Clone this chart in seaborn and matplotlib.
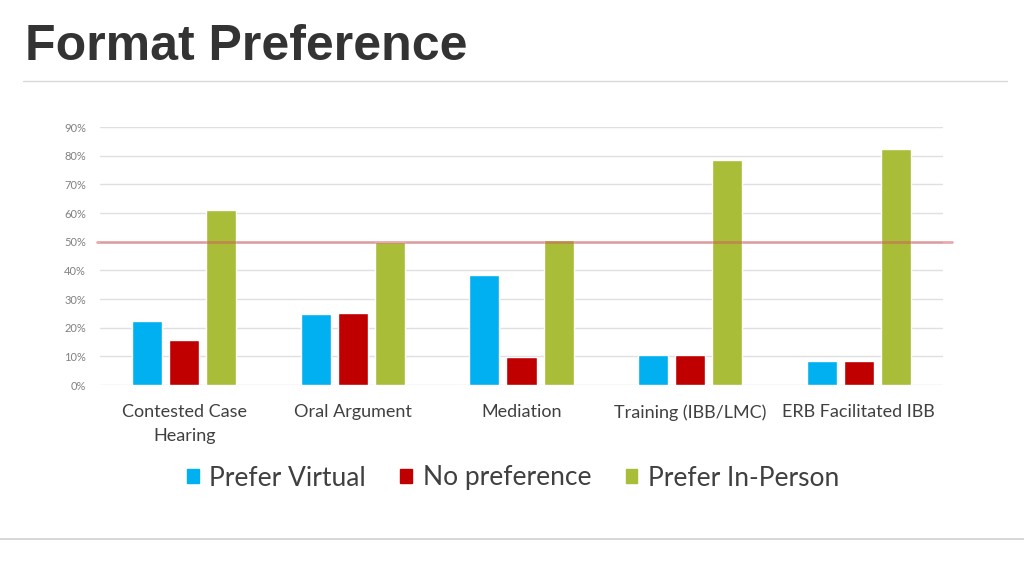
import pandas as pd
import seaborn as sns
import matplotlib.pyplot as plt
from matplotlib.lines import Line2D

# data (percent)
categories = ["Contested Case\nHearing", "Oral Argument", "Mediation",
              "Training (IBB/LMC)", "ERB Facilitated IBB"]
series = ["Prefer Virtual", "No preference", "Prefer In-Person"]
prefer_virtual = [22.3, 24.8, 38.5, 10.4, 8.4]
no_preference = [15.8, 25.0, 9.9, 10.4, 8.4]
prefer_in_person = [61.0, 49.9, 50.7, 78.4, 82.3]
y_ticks = [0, 10, 20, 30, 40, 50, 60, 70, 80, 90]
threshold = 50

colors = ["#00B0F0", "#C00000", "#A9BD38"]

df = pd.DataFrame({
    "category": categories * 3,
    "series": [s for s in series for _ in categories],
    "value": prefer_virtual + no_preference + prefer_in_person,
})

sns.set_theme(style="white")
plt.rcParams["font.family"] = ["Lato", "DejaVu Sans"]

fig = plt.figure(figsize=(10.24, 5.76), dpi=100)
ax = fig.add_axes([100 / 1024, 1 - 385 / 576, 843 / 1024, 258 / 576])

sns.barplot(data=df, x="category", y="value", hue="series", order=categories,
            hue_order=series, palette=colors, width=0.66, gap=0.19,
            saturation=1, ax=ax, legend=False, zorder=2)

ax.set_xlim(-0.5, len(categories) - 0.5)
ax.set_ylim(0, 90)
ax.set_yticks(y_ticks)
ax.set_yticklabels([f"{t}%" for t in y_ticks], fontsize=8, color="#808080")
ax.tick_params(axis="y", length=0, pad=10)
ax.tick_params(axis="x", length=0, pad=14, labelsize=13, labelcolor="#404040")
for lbl in ax.get_xticklabels():
    lbl.set_linespacing(1.55)
ax.yaxis.grid(True, color="#e0e0e0", linewidth=1, zorder=0)
ax.set_axisbelow(True)
for s in ax.spines.values():
    s.set_visible(False)
ax.set_xlabel("")
ax.set_ylabel("")

# 50% reference line, reaching a bit past the plot area
ax.axhline(threshold, xmin=-0.003, xmax=1.011, color="#D0595C", alpha=0.5,
           linewidth=2, clip_on=False, zorder=5)

# title and separators
fig.text(25 / 1024, 1 - 47 / 576, "Format Preference", fontsize=36,
         fontweight="bold", family="Liberation Sans", color="#333333",
         va="center", ha="left")
fig.add_artist(Line2D([23 / 1024, 1007 / 1024], [1 - 81 / 576, 1 - 81 / 576],
                      color="#d9d9d9", linewidth=1))
fig.add_artist(Line2D([0, 1], [1 - 539 / 576, 1 - 539 / 576],
                      color="#d0d0d0", linewidth=1.2))

handles = [plt.Rectangle((0, 0), 1, 1, color=c) for c in colors]
fig.legend(handles, series, loc="center", bbox_to_anchor=(513 / 1024, 1 - 478 / 576),
           ncol=3, frameon=False, fontsize=19, handlelength=0.45, handleheight=0.45,
           handletextpad=0.4, columnspacing=1.3, labelcolor="#404040")

fig.savefig("out.png", dpi=100)
